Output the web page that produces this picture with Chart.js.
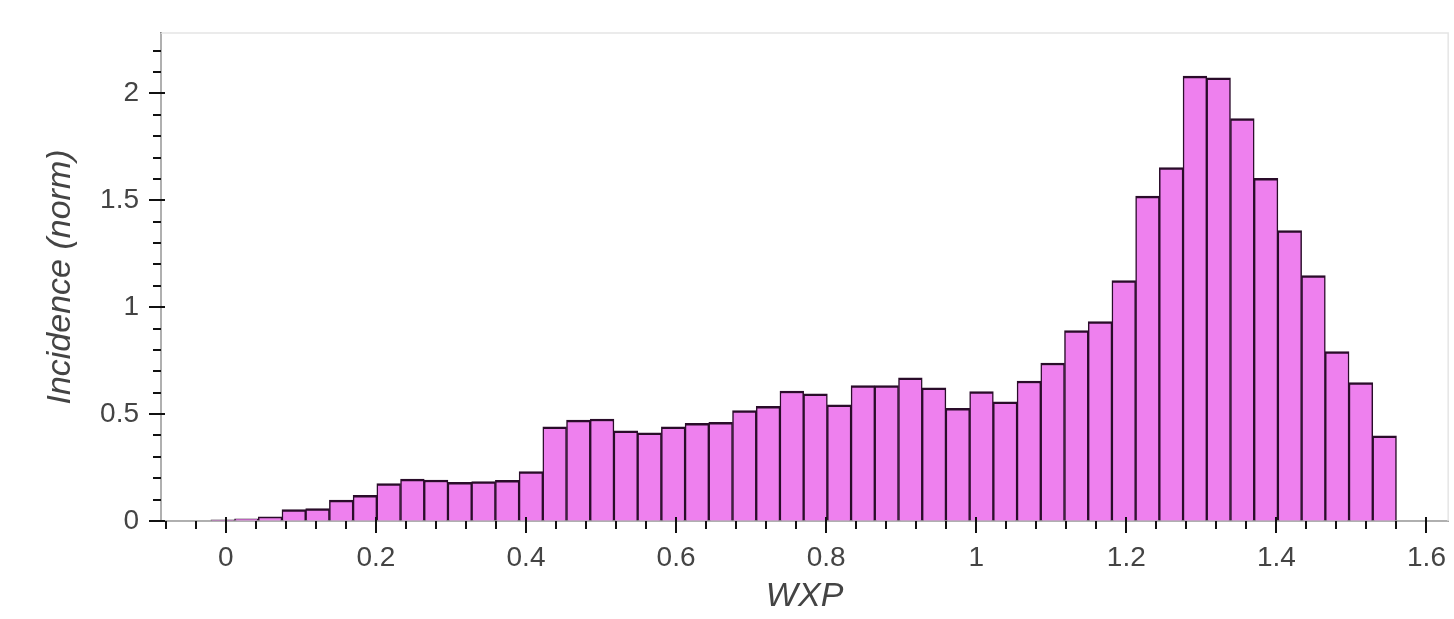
<!DOCTYPE html>
<html>
<head>
<meta charset="utf-8">
<title>WXP histogram</title>
<script src="https://cdn.jsdelivr.net/npm/chart.js@4.4.1/dist/chart.umd.min.js"></script>
<style>
  html, body { margin: 0; padding: 0; background: #fff; }
  canvas { display: block; }
</style>
</head>
<body>
<canvas id="histChart" width="1454" height="619"></canvas>
<script>
// histogram bins: 50 equal bins starting at binStart
const binStart = -0.02;
const binWidth = 0.0316;
const incidence = [
  0.005, 0.01, 0.02, 0.054, 0.058, 0.098, 0.12, 0.175, 0.196, 0.192,
  0.181, 0.184, 0.19, 0.231, 0.44, 0.472, 0.477, 0.422, 0.413, 0.44,
  0.457, 0.462, 0.516, 0.536, 0.608, 0.595, 0.544, 0.633, 0.633, 0.67,
  0.623, 0.527, 0.606, 0.557, 0.655, 0.739, 0.891, 0.933, 1.125, 1.52,
  1.653, 2.081, 2.073, 1.883, 1.603, 1.359, 1.148, 0.793, 0.647, 0.399
];
const xTickValues = [0, 0.2, 0.4, 0.6, 0.8, 1, 1.2, 1.4, 1.6];
const yTickValues = [0, 0.5, 1, 1.5, 2];

const FONT = "'Liberation Sans', Helvetica, Arial, sans-serif";
const TEXT = '#444';

const points = incidence.map((v, i) => ({ x: binStart + binWidth * (i + 0.5), y: v }));

// outline + major/minor tick marks (bokeh style: ticks stick out, majors poke in a bit)
const axisTicks = {
  id: 'axisTicks',
  beforeDatasetsDraw(chart) {
    const { ctx, chartArea: a } = chart;
    ctx.save();
    ctx.strokeStyle = '#e5e5e5';
    ctx.lineWidth = 1.5;
    ctx.strokeRect(a.left, a.top, a.right - a.left, a.bottom - a.top);
    ctx.restore();
  },
  afterDraw(chart) {
    const { ctx, chartArea: a, scales: { x, y } } = chart;
    ctx.save();
    ctx.strokeStyle = '#111';
    ctx.lineWidth = 2;
    ctx.beginPath();
    for (let i = -3; i <= 41; i++) {
      const px = Math.round(x.getPixelForValue(i * 0.04));
      if (px < a.left || px > a.right) continue;
      const major = i % 5 === 0;
      ctx.moveTo(px, a.bottom - (major ? 4 : 0));
      ctx.lineTo(px, a.bottom + (major ? 12 : 8));
    }
    for (let i = 0; i <= 23; i++) {
      const py = Math.round(y.getPixelForValue(i * 0.1));
      if (py < a.top || py > a.bottom) continue;
      const major = i % 5 === 0;
      ctx.moveTo(a.left + (major ? 4 : 0), py);
      ctx.lineTo(a.left - (major ? 12 : 8), py);
    }
    ctx.stroke();
    ctx.restore();
  }
};

const plainLabel = v => String(Math.round(v * 10) / 10);

new Chart(document.getElementById('histChart'), {
  type: 'bar',
  data: {
    datasets: [{
      data: points,
      backgroundColor: '#ee80ee',
      borderColor: '#2a0c2a',
      borderWidth: { top: 2.5, left: 1.5, right: 1.5, bottom: 0 },
      barPercentage: 1,
      categoryPercentage: 1
    }]
  },
  options: {
    responsive: false,
    animation: false,
    devicePixelRatio: 1,
    layout: { padding: { top: 33, right: 3, left: 0, bottom: 0 } },
    plugins: {
      legend: { display: false },
      tooltip: { enabled: false }
    },
    scales: {
      x: {
        type: 'linear',
        min: -0.0864,
        max: 1.6289,
        offset: false,
        z: 1,
        afterFit: s => { s.height = 98; },
        afterBuildTicks: s => { s.ticks = xTickValues.map(v => ({ value: v })); },
        grid: { display: true, drawOnChartArea: false, drawTicks: true, tickLength: 12, color: 'transparent', offset: false },
        border: { display: true, color: '#111', width: 2 },
        ticks: {
          color: TEXT,
          padding: 8,
          maxRotation: 0,
          autoSkip: false,
          callback: plainLabel,
          font: { family: FONT, size: 28 }
        },
        title: {
          display: true,
          text: 'WXP',
          color: TEXT,
          padding: { top: 0, bottom: 2 },
          font: { family: FONT, size: 34, style: 'italic' }
        }
      },
      y: {
        type: 'linear',
        min: 0,
        max: 2.283,
        z: 1,
        afterFit: s => { s.width = 161; },
        afterBuildTicks: s => { s.ticks = yTickValues.map(v => ({ value: v })); },
        grid: { display: true, drawOnChartArea: false, drawTicks: true, tickLength: 12, color: 'transparent' },
        border: { display: true, color: '#111', width: 2 },
        ticks: {
          color: TEXT,
          padding: 10,
          callback: plainLabel,
          font: { family: FONT, size: 28 }
        },
        title: {
          display: true,
          text: 'Incidence (norm)',
          color: TEXT,
          padding: { top: 40, bottom: 0 },
          font: { family: FONT, size: 34, style: 'italic' }
        }
      }
    }
  },
  plugins: [axisTicks]
});
</script>
</body>
</html>
